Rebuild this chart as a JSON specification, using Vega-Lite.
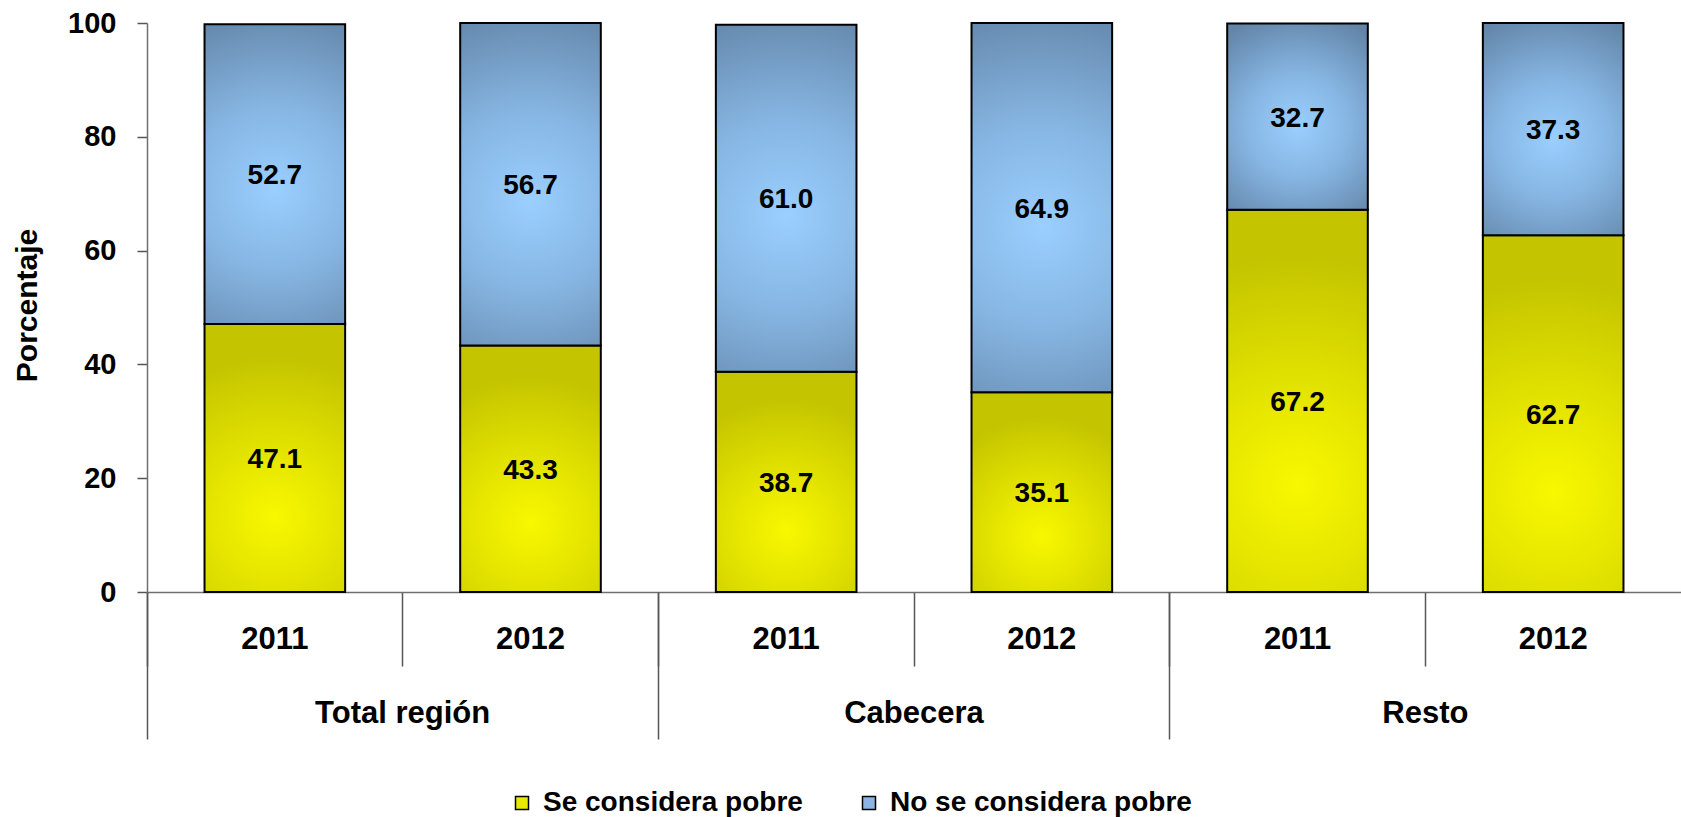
{
  "$schema": "https://vega.github.io/schema/vega-lite/v6.json",
  "width": 1534,
  "height": 569,
  "autosize": {"type": "none"},
  "padding": {"left": 147, "top": 23, "right": 0, "bottom": 225},
  "background": "white",
  "config": {"view": {"stroke": null}, "font": "Liberation Sans"},
  "data": {
    "values": [
      {"group": "Total región", "year": "2011", "series": "Se considera pobre", "value": 47.1},
      {"group": "Total región", "year": "2011", "series": "No se considera pobre", "value": 52.7},
      {"group": "Total región", "year": "2012", "series": "Se considera pobre", "value": 43.3},
      {"group": "Total región", "year": "2012", "series": "No se considera pobre", "value": 56.7},
      {"group": "Cabecera", "year": "2011", "series": "Se considera pobre", "value": 38.7},
      {"group": "Cabecera", "year": "2011", "series": "No se considera pobre", "value": 61.0},
      {"group": "Cabecera", "year": "2012", "series": "Se considera pobre", "value": 35.1},
      {"group": "Cabecera", "year": "2012", "series": "No se considera pobre", "value": 64.9},
      {"group": "Resto", "year": "2011", "series": "Se considera pobre", "value": 67.2},
      {"group": "Resto", "year": "2011", "series": "No se considera pobre", "value": 32.7},
      {"group": "Resto", "year": "2012", "series": "Se considera pobre", "value": 62.7},
      {"group": "Resto", "year": "2012", "series": "No se considera pobre", "value": 37.3}
    ]
  },
  "transform": [
    {"calculate": "datum.group + '|' + datum.year", "as": "bar"},
    {"calculate": "datum.series === 'Se considera pobre' ? 0 : 1", "as": "order"},
    {"stack": "value", "groupby": ["bar"], "sort": [{"field": "order", "order": "ascending"}], "as": ["y0", "y1"]},
    {"calculate": "(datum.y0 + datum.y1) / 2", "as": "mid"}
  ],
  "resolve": {"axis": {"x": "independent"}},
  "layer": [
    {
      "transform": [{"filter": "datum.series === 'Se considera pobre'"}],
      "mark": {
        "type": "bar",
        "width": {"band": 0.55},
        "stroke": "black",
        "strokeWidth": 2,
        "fill": {
          "gradient": "radial",
          "x1": 0.5, "y1": 0.72, "r1": 0,
          "x2": 0.5, "y2": 0.72, "r2": 0.6,
          "stops": [
            {"offset": 0, "color": "#F8F800"},
            {"offset": 0.45, "color": "#E2E200"},
            {"offset": 1, "color": "#C4C400"}
          ]
        }
      },
      "encoding": {
        "x": {
          "field": "bar", "type": "nominal", "sort": null,
          "scale": {"paddingInner": 0, "paddingOuter": 0},
          "axis": {
            "orient": "bottom", "title": null, "grid": false,
            "domain": true, "domainColor": "#6f6f6f", "domainWidth": 1.5,
            "bandPosition": 0, "ticks": true, "tickSize": 74, "tickColor": "#555555", "tickWidth": 1.5,
            "labelExpr": "split(datum.value, '|')[1]",
            "labelAngle": 0, "labelOverlap": false, "labelFlush": false, "labelBound": false,
            "labelFont": "Liberation Sans", "labelFontWeight": "bold", "labelFontSize": 31,
            "labelColor": "black", "labelPadding": -27, "labelBaseline": "middle", "labelAlign": "center"
          }
        },
        "y": {
          "field": "y1", "type": "quantitative",
          "scale": {"domain": [0, 100], "nice": false, "zero": true},
          "axis": {
            "title": "Porcentaje", "values": [0, 20, 40, 60, 80, 100], "grid": false,
            "domainColor": "#6f6f6f", "domainWidth": 1.5,
            "tickSize": 10, "tickColor": "#555555", "tickWidth": 1.5,
            "labelFontSize": 29, "labelFontWeight": "bold", "labelColor": "black", "labelPadding": 21,
            "titleFontSize": 30, "titleFontWeight": "bold", "titleColor": "black",
            "titleX": -120, "titleY": 282, "titleAngle": -90, "titleAlign": "center", "titleBaseline": "middle"
          }
        },
        "y2": {"field": "y0"}
      }
    },
    {
      "transform": [{"filter": "datum.series === 'No se considera pobre'"}],
      "mark": {
        "type": "bar",
        "width": {"band": 0.55},
        "stroke": "black",
        "strokeWidth": 2,
        "fill": {
          "gradient": "radial",
          "x1": 0.5, "y1": 0.55, "r1": 0,
          "x2": 0.5, "y2": 0.55, "r2": 0.62,
          "stops": [
            {"offset": 0, "color": "#9ACFFF"},
            {"offset": 0.45, "color": "#86B5E2"},
            {"offset": 1, "color": "#6385A8"}
          ]
        }
      },
      "encoding": {
        "x": {
          "field": "bar", "type": "nominal", "sort": null,
          "axis": {
            "orient": "bottom", "title": null, "grid": false, "domain": false,
            "values": ["Total región|2011", "Cabecera|2011", "Resto|2011"],
            "bandPosition": 0, "ticks": true, "tickSize": 147, "tickColor": "#555555", "tickWidth": 1.5,
            "labelExpr": "split(datum.value, '|')[0]",
            "labelOffset": 127.83,
            "labelAngle": 0, "labelOverlap": false, "labelFlush": false, "labelBound": false,
            "labelFontWeight": "bold", "labelFontSize": 31, "labelColor": "black",
            "labelPadding": -26, "labelBaseline": "middle", "labelAlign": "center"
          }
        },
        "y": {
          "field": "y1", "type": "quantitative",
          "axis": {
            "title": "Porcentaje", "values": [0, 20, 40, 60, 80, 100], "grid": false,
            "domainColor": "#6f6f6f", "domainWidth": 1.5,
            "tickSize": 10, "tickColor": "#555555", "tickWidth": 1.5,
            "labelFontSize": 29, "labelFontWeight": "bold", "labelColor": "black", "labelPadding": 21,
            "titleFontSize": 30, "titleFontWeight": "bold", "titleColor": "black",
            "titleX": -120, "titleY": 282, "titleAngle": -90, "titleAlign": "center", "titleBaseline": "middle"
          }
        },
        "y2": {"field": "y0"}
      }
    },
    {
      "mark": {"type": "text", "fontSize": 28, "fontWeight": "bold", "color": "black", "baseline": "middle", "align": "center", "dy": 2},
      "encoding": {
        "x": {"field": "bar", "type": "nominal", "sort": null, "axis": null},
        "y": {
          "field": "mid", "type": "quantitative",
          "axis": {
            "title": "Porcentaje", "values": [0, 20, 40, 60, 80, 100], "grid": false,
            "domainColor": "#6f6f6f", "domainWidth": 1.5,
            "tickSize": 10, "tickColor": "#555555", "tickWidth": 1.5,
            "labelFontSize": 29, "labelFontWeight": "bold", "labelColor": "black", "labelPadding": 21,
            "titleFontSize": 30, "titleFontWeight": "bold", "titleColor": "black",
            "titleX": -120, "titleY": 282, "titleAngle": -90, "titleAlign": "center", "titleBaseline": "middle"
          }
        },
        "text": {"field": "value", "type": "quantitative", "format": ".1f"}
      }
    },
    {
      "mark": {"type": "square", "opacity": 0},
      "encoding": {
        "x": {"field": "bar", "type": "nominal", "sort": null, "axis": null},
        "y": {
          "field": "mid", "type": "quantitative",
          "axis": {
            "title": "Porcentaje", "values": [0, 20, 40, 60, 80, 100], "grid": false,
            "domainColor": "#6f6f6f", "domainWidth": 1.5,
            "tickSize": 10, "tickColor": "#555555", "tickWidth": 1.5,
            "labelFontSize": 29, "labelFontWeight": "bold", "labelColor": "black", "labelPadding": 21,
            "titleFontSize": 30, "titleFontWeight": "bold", "titleColor": "black",
            "titleX": -120, "titleY": 282, "titleAngle": -90, "titleAlign": "center", "titleBaseline": "middle"
          }
        },
        "color": {
          "field": "series", "type": "nominal",
          "scale": {"domain": ["Se considera pobre", "No se considera pobre"], "range": ["#E8E800", "#8DB4E2"]},
          "legend": {
            "orient": "none", "legendX": 361, "legendY": 766, "direction": "horizontal",
            "title": null, "padding": 0,
            "symbolType": "square", "symbolSize": 169, "symbolStrokeColor": "black", "symbolStrokeWidth": 1.5, "symbolOpacity": 1,
            "labelFontSize": 28, "labelFontWeight": "bold", "labelColor": "black", "labelLimit": 500,
            "labelOffset": 7, "columnPadding": 52,
            "encode": {"symbols": {"update": {"opacity": {"value": 1}, "stroke": {"value": "black"}, "strokeWidth": {"value": 1.5}}}}
          }
        }
      }
    }
  ]
}
